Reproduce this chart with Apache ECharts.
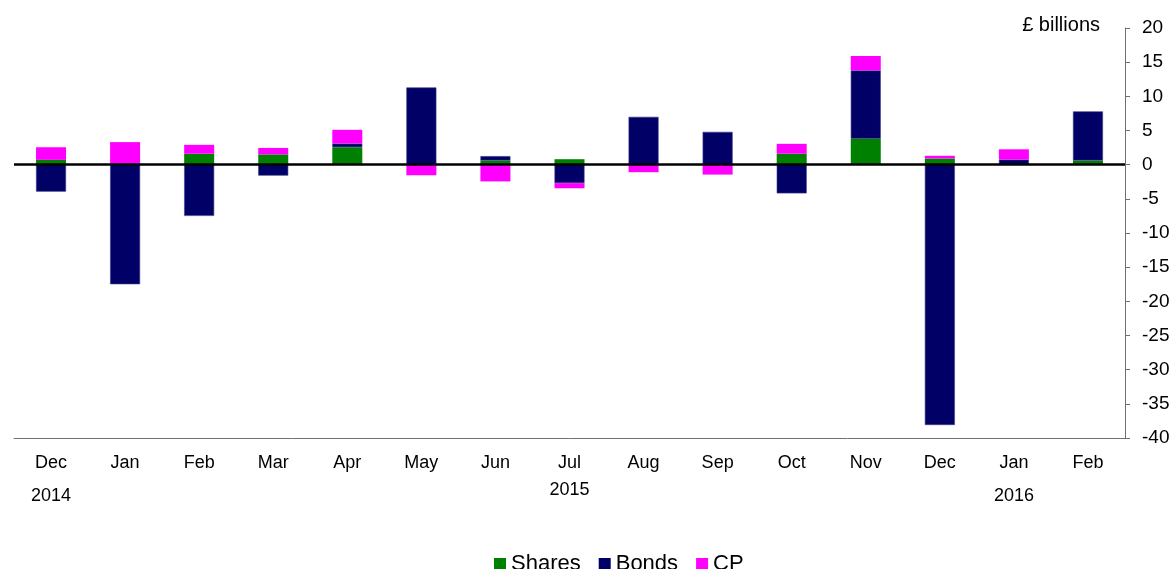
<!DOCTYPE html>
<html>
<head>
<meta charset="utf-8">
<script src="https://cdn.jsdelivr.net/npm/echarts@6/dist/echarts.min.js"></script>
<style>
  html, body { margin: 0; padding: 0; background: #fff; }
  #chart { width: 1176px; height: 569px; }
</style>
</head>
<body>
<div id="chart"></div>
<script>
// months and the year row under them
const months = ['Dec', 'Jan', 'Feb', 'Mar', 'Apr', 'May', 'Jun', 'Jul', 'Aug', 'Sep', 'Oct', 'Nov', 'Dec', 'Jan', 'Feb']
const years = ['2014', '', '', '', '', '', '', '2015', '', '', '', '', '', '2016', '']

// £ billions
const shares = [0.7, 0, 1.6, 1.5, 2.55, 0, 0.6, 0.8, 0, 0, 1.6, 3.8, 0.9, 0.05, 0.6]
const bonds = [-3.95, -17.5, -7.5, -1.6, 0.55, 11.3, 0.65, -2.7, 7.0, 4.8, -4.2, 10.0, -38.1, 0.7, 7.2]
const cp = [1.85, 3.3, 1.3, 0.95, 2.0, -1.55, -2.45, -0.75, -1.1, -1.45, 1.45, 2.1, 0.4, 1.5, 0]

const yTicks = { min: -40, max: 20, step: 5 }

const chart = echarts.init(document.getElementById('chart'))
const font = '"Liberation Sans", Arial, sans-serif'

const option = {
  animation: false,
  textStyle: { fontFamily: font },
  grid: { left: 14, right: 51, top: 28, bottom: 131, containLabel: false },
  legend: {
    left: 489,
    top: 548,
    icon: 'rect',
    itemWidth: 12,
    itemHeight: 12,
    itemGap: 18,
    itemStyle: { borderWidth: 0 },
    textStyle: { fontSize: 22, color: '#000', fontFamily: font },
    data: ['Shares', 'Bonds', 'CP']
  },
  graphic: [
    {
      type: 'text',
      right: 76,
      top: 15,
      style: { text: '£ billions', fontSize: 20, fill: '#000', fontFamily: font }
    }
  ],
  xAxis: {
    type: 'category',
    data: months,
    axisLine: { onZero: false, lineStyle: { color: '#707070', width: 1 } },
    axisTick: { inside: true, length: 5, lineStyle: { color: '#707070' } },
    axisLabel: {
      margin: 10,
      interval: 0,
      formatter: (v, i) => {
        const y = years[i]
        if (!y) return '{m|' + v + '}'
        return '{m|' + v + '}\n' + (y === '2015' ? '{y2|' + y + '}' : '{y|' + y + '}')
      },
      rich: {
        m: { fontSize: 18, color: '#000', lineHeight: 30, fontFamily: font },
        y: { fontSize: 18, color: '#000', lineHeight: 36, fontFamily: font },
        y2: { fontSize: 18, color: '#000', lineHeight: 24, fontFamily: font }
      }
    },
    splitLine: { show: false }
  },
  yAxis: {
    type: 'value',
    position: 'right',
    min: yTicks.min,
    max: yTicks.max,
    interval: yTicks.step,
    axisLine: { show: true, lineStyle: { color: '#707070' } },
    axisTick: { show: true, length: 5, lineStyle: { color: '#707070' } },
    axisLabel: { fontSize: 19, color: '#000', margin: 17, fontFamily: font },
    splitLine: { show: false }
  },
  series: [
    {
      name: 'Shares',
      type: 'bar',
      stack: 'all',
      barWidth: 30,
      data: shares,
      itemStyle: { color: '#008000' },
      markLine: {
        silent: true,
        symbol: 'none',
        label: { show: false },
        lineStyle: { color: '#000', width: 2.5, type: 'solid' },
        data: [{ yAxis: 0 }]
      },
      z: 2
    },
    {
      name: 'Bonds',
      type: 'bar',
      stack: 'all',
      barWidth: 30,
      data: bonds,
      itemStyle: { color: '#000066', borderColor: '#3a3a88', borderWidth: 0.6 }
    },
    {
      name: 'CP',
      type: 'bar',
      stack: 'all',
      barWidth: 30,
      data: cp,
      itemStyle: { color: '#ff00ff' }
    }
  ]
}

chart.setOption(option)
</script>
</body>
</html>
